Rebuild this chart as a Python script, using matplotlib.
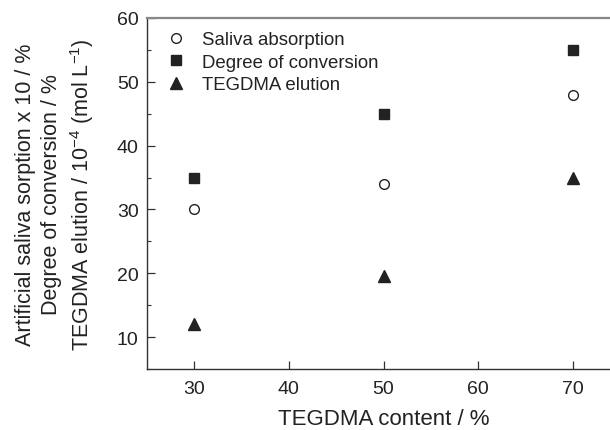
import matplotlib
matplotlib.use("Agg")
import matplotlib.pyplot as plt
from matplotlib.ticker import MultipleLocator

# ---------------- DATA ----------------
tegdma_content = [30, 50, 70]
saliva_absorption = [30, 34, 48]
degree_conversion = [35, 45, 55]
tegdma_elution = [12, 19.5, 35]

plt.rcParams['font.family'] = ['Liberation Sans', 'DejaVu Sans']
plt.rcParams['mathtext.default'] = 'regular'

fig = plt.figure(figsize=(6.1, 4.31), dpi=100)
# axes run past the right edge (the original figure is cropped there)
ax = fig.add_axes([0.241, 0.1415, 0.7754, 0.8145])

ax.plot(tegdma_content, saliva_absorption, 'o', mfc='white', mec='#222222',
        mew=1.0, ms=7, ls='none', label='Saliva absorption')
ax.plot(tegdma_content, degree_conversion, 's', color='#222222',
        ms=6.5, ls='none', label='Degree of conversion')
ax.plot(tegdma_content, tegdma_elution, '^', color='#222222',
        ms=9, ls='none', label='TEGDMA elution')

ax.set_xlim(25, 75)
ax.set_ylim(5, 60)
ax.set_xticks([30, 40, 50, 60, 70])
ax.set_yticks([10, 20, 30, 40, 50, 60])
ax.yaxis.set_minor_locator(MultipleLocator(5))

ax.spines['right'].set_visible(False)
ax.spines['top'].set_color('#888888')
ax.spines['top'].set_linewidth(1.6)
for s in ('left', 'bottom'):
    ax.spines[s].set_color('#333333')
    ax.spines[s].set_linewidth(1.0)

ax.tick_params(axis='both', which='major', direction='in', length=6,
               width=0.9, color='#333333', labelsize=14, labelcolor='#222222', pad=6)
ax.tick_params(axis='x', which='major', pad=8)
ax.tick_params(axis='y', which='minor', direction='in', length=3,
               width=0.8, color='#333333')
ax.tick_params(top=False, right=False)

ax.set_xlabel('TEGDMA content / %', fontsize=16, color='#222222', labelpad=8)
ax.set_ylabel('Artificial saliva sorption x 10 / %\nDegree of conversion / %\n'
              'TEGDMA elution / 10$^{-4}$ (mol L$^{-1}$)',
              fontsize=15.5, color='#222222', labelpad=15, linespacing=1.3,
              ha='center')

leg = ax.legend(loc='upper left', frameon=False, fontsize=13.4,
                handletextpad=0.8, borderaxespad=0.3, labelspacing=0.3,
                handlelength=1.2, bbox_to_anchor=(0.01, 1.0))
for t in leg.get_texts():
    t.set_color('#222222')

fig.savefig('out.png', dpi=100)
